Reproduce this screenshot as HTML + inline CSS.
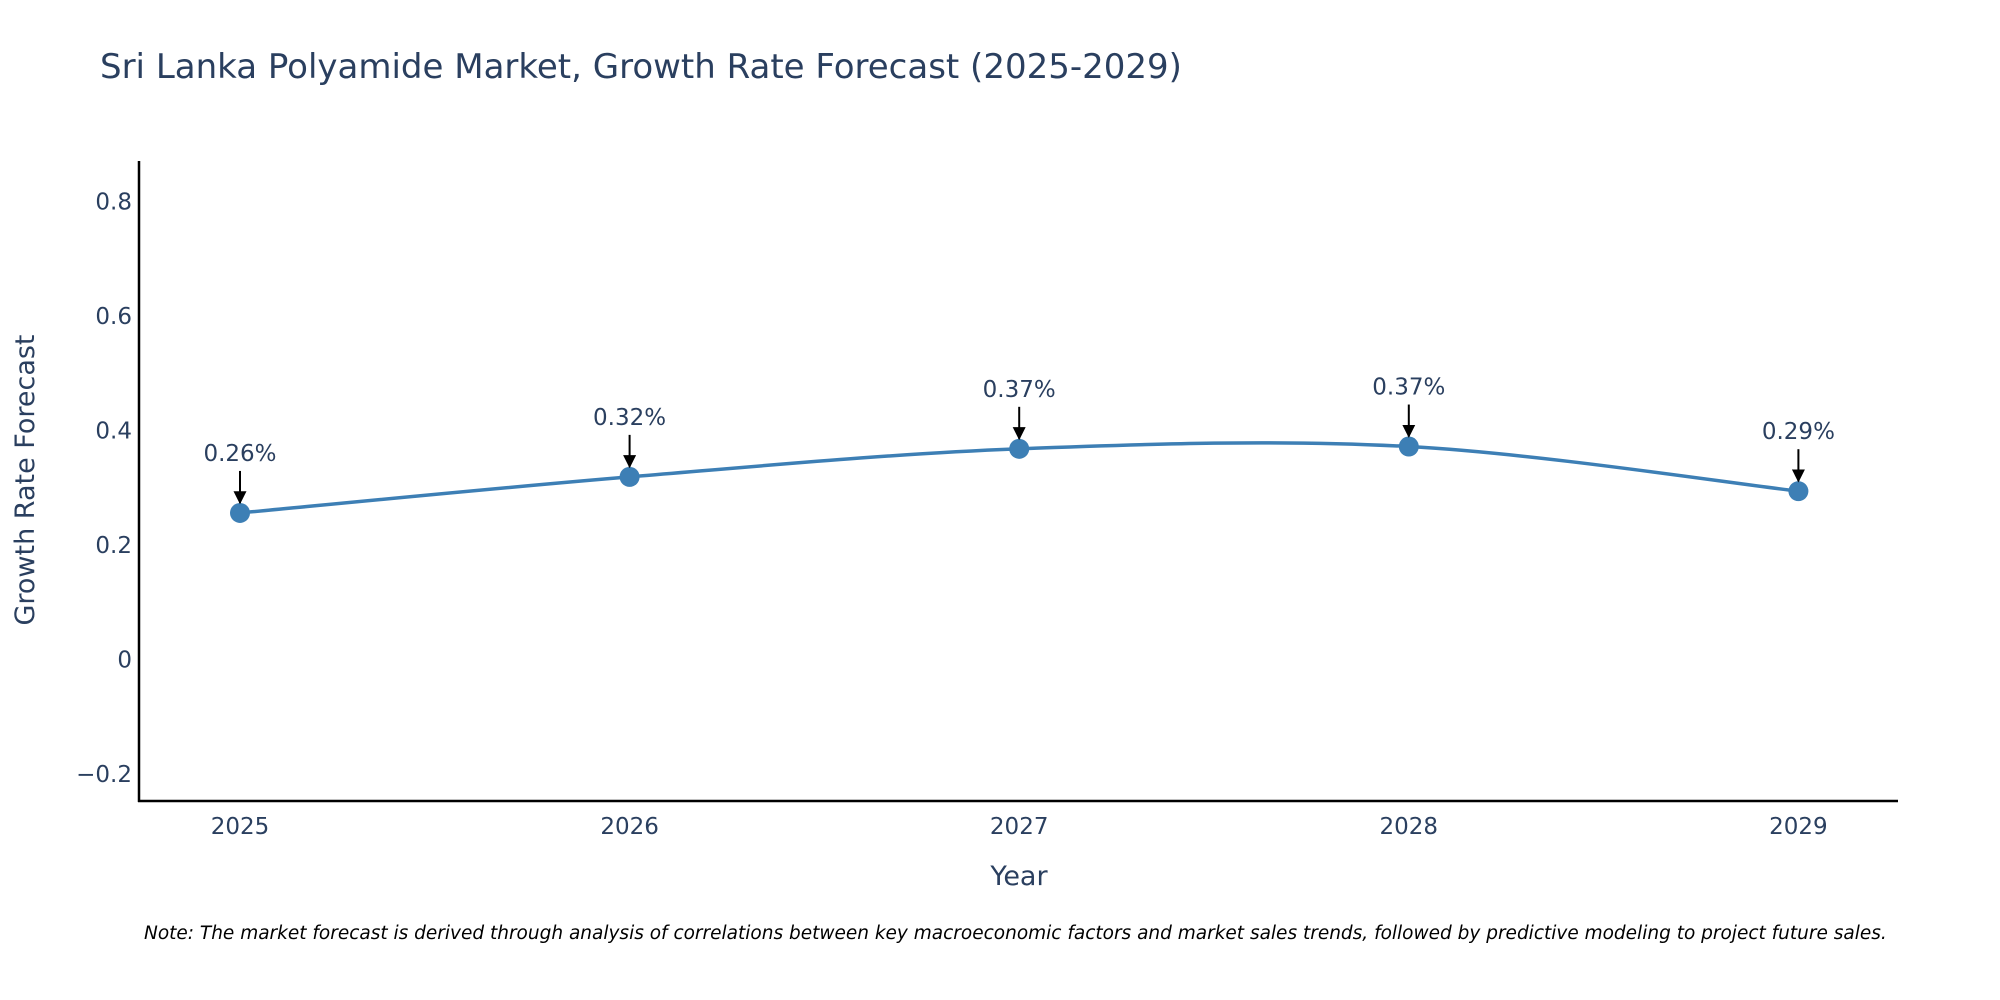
<!DOCTYPE html>
<html><head><meta charset="utf-8"><style>
html,body{margin:0;padding:0;background:#fff;}
svg{display:block;font-family:"DejaVu Sans","Liberation Sans",Arial,sans-serif;}
</style></head><body>
<svg id="chart" width="2000" height="1000" viewBox="0 0 2000 1000" xmlns="http://www.w3.org/2000/svg">
<text x="100" y="78" font-size="34" fill="#2a3f5f">Sri Lanka Polyamide Market, Growth Rate Forecast (2025-2029)</text>
<g id="yticks"></g>
<g id="xticks"></g>
<line x1="139" y1="161" x2="139" y2="802" stroke="#000" stroke-width="2.5"/>
<line x1="138" y1="801" x2="1898" y2="801" stroke="#000" stroke-width="2.5"/>
<text transform="translate(34,480) rotate(-90)" text-anchor="middle" font-size="27" fill="#2a3f5f">Growth Rate Forecast</text>
<text x="1019" y="885" text-anchor="middle" font-size="27" fill="#2a3f5f">Year</text>
<g id="series"></g>
<g id="annots"></g>
<text x="144" y="939" font-size="18.5" font-style="italic" fill="#000">Note: The market forecast is derived through analysis of correlations between key macroeconomic factors and market sales trends, followed by predictive modeling to project future sales.</text>
<defs><marker id="ah" viewBox="0 0 10 10" refX="9" refY="5" markerWidth="6.5" markerHeight="6.5" orient="auto"><path d="M0,0 L10,5 L0,10 z" fill="#000"/></marker></defs>
</svg>
<script>
const years = [2025, 2026, 2027, 2028, 2029];
const values = [0.256, 0.319, 0.368, 0.372, 0.294];
const labels = ["0.26%", "0.32%", "0.37%", "0.37%", "0.29%"];
const yTickValues = [-0.2, 0, 0.2, 0.4, 0.6, 0.8];
const yTickLabels = ["\u22120.2", "0", "0.2", "0.4", "0.6", "0.8"];

const NS = "http://www.w3.org/2000/svg";
const xScale = v => 240 + (v - 2025) * 389.6;
const yScale = v => 659.5 - v * 572.5;
function mk(tag, attrs, parent, text){
  const e = document.createElementNS(NS, tag);
  for (const k in attrs) e.setAttribute(k, attrs[k]);
  if (text !== undefined) e.textContent = text;
  parent.appendChild(e); return e;
}
const yt = document.getElementById('yticks');
yTickValues.forEach((v,i)=>{
  const t = mk('text',{x:132,y:yScale(v)+8,'text-anchor':'end','font-size':23,fill:'#2a3f5f'},yt,yTickLabels[i]);
  
  
});
const xt = document.getElementById('xticks');
years.forEach(y=>{
  const t = mk('text',{x:xScale(y),y:834,'text-anchor':'middle','font-size':23,fill:'#2a3f5f'},xt,String(y));
  
  
});
const pts = years.map((y,i)=>[xScale(y), yScale(values[i])]);
let d = `M${pts[0][0]},${pts[0][1]}`;
for (let i=0;i<pts.length-1;i++){
  const p0 = pts[Math.max(0,i-1)], p1 = pts[i], p2 = pts[i+1], p3 = pts[Math.min(pts.length-1,i+2)];
  const c1 = [p1[0]+(p2[0]-p0[0])/6, p1[1]+(p2[1]-p0[1])/6];
  const c2 = [p2[0]-(p3[0]-p1[0])/6, p2[1]-(p3[1]-p1[1])/6];
  d += ` C${c1[0]},${c1[1]} ${c2[0]},${c2[1]} ${p2[0]},${p2[1]}`;
}
const s = document.getElementById('series');
const line = mk('path',{d:d,fill:'none',stroke:'#3d7fb5','stroke-width':3.5},s);


const an = document.getElementById('annots');
pts.forEach((p,i)=>{
  const c = mk('circle',{cx:p[0],cy:p[1],r:10,fill:'#3d7fb5'},s);
  
  
  const a = mk('line',{x1:p[0],y1:p[1]-42,x2:p[0],y2:p[1]-10,stroke:'#000','stroke-width':2,'marker-end':'url(#ah)'},an);
  
  
  const t = mk('text',{x:p[0],y:p[1]-52,'text-anchor':'middle','font-size':23,fill:'#2a3f5f'},an,labels[i]);
  
  
});
</script>
</body></html>
